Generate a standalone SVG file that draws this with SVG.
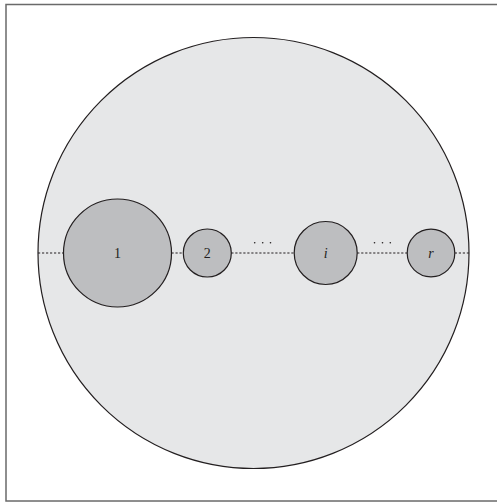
<svg xmlns="http://www.w3.org/2000/svg" width="497" height="502" viewBox="0 0 497 502">
<style>
.frame{fill:#fff;stroke:#6a6a6a;stroke-width:1.5}
.outer{fill:#e6e7e8;stroke:#231f20;stroke-width:1.2}
.node{fill:#bdbec0;stroke:#231f20;stroke-width:1.2}
.conn{stroke:#231f20;stroke-width:1.1;stroke-dasharray:2.2 1.8;fill:none}
.lbl{font-family:"Liberation Serif",serif;font-size:14px;fill:#231f20;text-anchor:middle}
.dot{fill:#231f20}
</style>
<rect class="frame" x="6" y="4.5" width="500" height="496.5"/>
<g id="outer"><circle class="outer" cx="253.5" cy="253" r="215.5"/></g>
<g id="connectors">
<line class="conn" x1="38" y1="253" x2="63.5" y2="253"/>
<line class="conn" x1="171.5" y1="253" x2="183.3" y2="253"/>
<line class="conn" x1="231.3" y1="253" x2="294.2" y2="253"/>
<line class="conn" x1="357.2" y1="253" x2="407.2" y2="253"/>
<line class="conn" x1="454.8" y1="253" x2="469" y2="253"/>
</g>
<g id="node1"><circle class="node" cx="117.5" cy="253" r="54"/><text class="lbl" x="117.5" y="258">1</text></g>
<g id="node2"><circle class="node" cx="207.3" cy="253" r="24"/><text class="lbl" x="207.3" y="258">2</text></g>
<g id="nodei"><circle class="node" cx="325.7" cy="253" r="31.5"/><text class="lbl" x="325.7" y="258" font-style="italic">i</text></g>
<g id="noder"><circle class="node" cx="431" cy="253" r="23.8"/><text class="lbl" x="431" y="258" font-style="italic">r</text></g>
<g id="ellipsis1"><circle class="dot" cx="254.7" cy="242.7" r="0.8"/><circle class="dot" cx="262.7" cy="242.7" r="0.8"/><circle class="dot" cx="270.5" cy="242.7" r="0.8"/></g>
<g id="ellipsis2"><circle class="dot" cx="374.5" cy="242.7" r="0.8"/><circle class="dot" cx="382.5" cy="242.7" r="0.8"/><circle class="dot" cx="390.3" cy="242.7" r="0.8"/></g>
</svg>
